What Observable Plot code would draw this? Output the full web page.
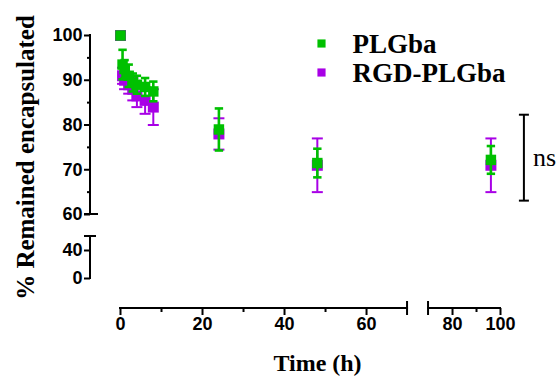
<!DOCTYPE html>
<html><head><meta charset="utf-8">
<script src="https://cdn.jsdelivr.net/npm/d3@7"></script>
<script src="https://cdn.jsdelivr.net/npm/@observablehq/plot@0.6"></script>
<style>html,body{margin:0;padding:0;background:#fff}#chart{width:556px;height:376px}</style>
</head><body><div id="chart"></div>
<script>
// ---- data ----
const times = [0, 0.5, 1, 2, 3, 4, 6, 8, 24, 48, 96];
const plgbaMean = [100, 93.5, 92.5, 91, 89.5, 89, 88.5, 87.5, 79, 71.5, 72.2];
const plgbaSD   = [0, 3.3, 2, 2.5, 2, 2, 2, 2.2, 4.7, 3.2, 3.1];
const rgdMean   = [100, 91, 90, 89, 88, 86.5, 85.5, 84, 78, 71, 71];
const rgdSD     = [0, 1.8, 2, 2, 2.5, 2.5, 3, 4, 3.5, 6, 6];
const seriesNames = ["PLGba", "RGD-PLGba"];
const xTicksMajor = [0, 20, 40, 60, 80, 100];
const xTicksMinor = [10, 30, 50, 90];
const yTicksMajor = [0, 40, 60, 70, 80, 90, 100];
const yTicksMinor = [65, 75, 85, 95];
const xSegments = [[0, 70], [70.0001, 100]];   // broken x axis
const ySegments = [[0, 59.999], [60, 100]];    // broken y axis
const nsBracket = [{t: 96, lo: 63.1, hi: 82.3, label: "ns"}];

// ---- broken-axis transforms (scale config) ----
const xBreak = 70, xGap = 5.12, xRatio = 0.585;
const tx = t => t <= xBreak ? t : xBreak + xGap + (t - xBreak) * xRatio;
const yBreak = 60, yLowRatio = 0.1564, yGap = 4.916;
const ty = v => v < yBreak ? v * yLowRatio : yBreak * yLowRatio + yGap + (v - yBreak);

// ---- styling ----
const colors = {"PLGba": "#00c000", "RGD-PLGba": "#a800e6"};
const serif = "'Liberation Serif','Times New Roman',serif";
const sans = "'Liberation Sans',Arial,sans-serif";

const rows = (name, means, sds) => times.map((t, i) => ({t, name, mean: means[i], sd: sds[i]}));
const green = rows("PLGba", plgbaMean, plgbaSD);
const purple = rows("RGD-PLGba", rgdMean, rgdSD);

const hline = {draw(ctx, size) { const r = Math.sqrt(size / Math.PI); ctx.moveTo(-r, 0); ctx.lineTo(r, 0); }};

// axis ticks: positions in transformed space, labels in data units
const tickLabels = (ticks, f) => { const m = new Map(ticks.map(t => [f(t), String(t)])); return v => m.get(v) ?? ""; };

function seriesMarks(data, color, lw, capR, sqR) {
  const withErr = data.filter(d => d.sd > 0);
  return [
    Plot.ruleX(withErr, {x: "t", y1: d => d.mean - d.sd, y2: d => d.mean + d.sd, stroke: color, strokeWidth: lw}),
    Plot.dot(withErr, {x: "t", y: d => d.mean + d.sd, symbol: hline, r: capR, stroke: color, fill: "none", strokeWidth: lw}),
    Plot.dot(withErr, {x: "t", y: d => d.mean - d.sd, symbol: hline, r: capR, stroke: color, fill: "none", strokeWidth: lw}),
    Plot.dot(data, {x: "t", y: "mean", symbol: "square", r: sqR, fill: color, stroke: "none"})
  ];
}

function brokenAxes(index, scales, values, dim) {
  const X = v => scales.x(tx(v)), Y = v => scales.y(ty(v));
  const g = d3.create("svg:g").attr("stroke", "black").attr("stroke-width", 2).attr("fill", "none").attr("stroke-linecap", "square");
  const by = dim.height - dim.marginBottom, lx = dim.marginLeft;
  const seg = (x1, y1, x2, y2) => g.append("line").attr("x1", x1).attr("y1", y1).attr("x2", x2).attr("y2", y2);
  const [[xa, xb], [xc, xd]] = xSegments;
  seg(X(xa), by, X(xb), by);
  seg(X(xb), by - 6, X(xb), by + 6);
  seg(X(xc), by, X(xd), by);
  seg(X(xc), by - 6, X(xc), by + 6);
  const [[ya, yb], [yc, yd]] = ySegments;
  seg(lx, Y(yc), lx, Y(yd));
  seg(lx - 5, Y(yc), lx + 7, Y(yc));
  seg(lx, Y(ya), lx, Y(yb));
  seg(lx - 5, Y(yb), lx + 5, Y(yb));
  return g.node();
}

const legendMarks = seriesNames.flatMap((name, i) => [
  Plot.dot([name], {frameAnchor: "top-left", dx: 231, dy: 43 + 29 * i, symbol: "square", r: 4.6, fill: colors[name]}),
  Plot.text([name], {frameAnchor: "top-left", dx: 262, dy: 44 + 29 * i, textAnchor: "start", lineAnchor: "middle", fontFamily: serif, fontWeight: "bold", fontSize: 27, fill: "black"})
]);

const chart = Plot.plot({
  width: 556, height: 376,
  marginLeft: 90, marginBottom: 68, marginTop: 0, marginRight: 0,
  x: {transform: tx, domain: [tx(0), tx(100)], range: [120, 500]},
  y: {transform: ty, domain: [ty(0), ty(100)], range: [278, 35]},
  style: {background: "white", color: "black", fontFamily: sans},
  marks: [
    brokenAxes,
    Plot.axisX({ticks: xTicksMajor.map(tx), tickSize: 7, tickPadding: 2, strokeWidth: 2, fontSize: 18, fontWeight: "bold", fontFamily: sans, label: null, tickFormat: tickLabels(xTicksMajor, tx)}),
    Plot.axisX({ticks: xTicksMinor.map(tx), tickSize: 4, strokeWidth: 2, label: null, tickFormat: () => ""}),
    Plot.axisY({ticks: yTicksMajor.map(ty), tickSize: 6, tickPadding: 2, strokeWidth: 2, fontSize: 18, fontWeight: "bold", fontFamily: sans, label: null, tickFormat: tickLabels(yTicksMajor, ty)}),
    Plot.axisY({ticks: yTicksMinor.map(ty), tickSize: 3, strokeWidth: 2, label: null, tickFormat: () => ""}),
    ...seriesMarks(purple, colors["RGD-PLGba"], 2, 5.5, 6.2),
    ...seriesMarks(green, colors["PLGba"], 2.6, 4.2, 5.9),
    Plot.ruleX(nsBracket, {x: "t", y1: "lo", y2: "hi", dx: 33, stroke: "black", strokeWidth: 2}),
    Plot.dot(nsBracket, {x: "t", y: "lo", dx: 33, symbol: hline, r: 5, stroke: "black", fill: "none", strokeWidth: 2}),
    Plot.dot(nsBracket, {x: "t", y: "hi", dx: 33, symbol: hline, r: 5, stroke: "black", fill: "none", strokeWidth: 2}),
    Plot.text(nsBracket, {x: "t", y: d => (d.lo + d.hi) / 2, text: "label", dx: 42, textAnchor: "start", fontFamily: serif, fontSize: 26, fill: "black"}),
    ...legendMarks,
    Plot.text(["% Remained encapsulated"], {frameAnchor: "left", dx: -65, dy: 3, rotate: -90, textAnchor: "middle", lineAnchor: "middle", fontFamily: serif, fontWeight: "bold", fontSize: 25, fill: "black"}),
    Plot.text(["Time (h)"], {frameAnchor: "bottom", dx: -6, dy: 55, textAnchor: "middle", lineAnchor: "middle", fontFamily: serif, fontWeight: "bold", fontSize: 24, fill: "black"})
  ]
});
document.getElementById("chart").append(chart);
</script>
</body></html>
